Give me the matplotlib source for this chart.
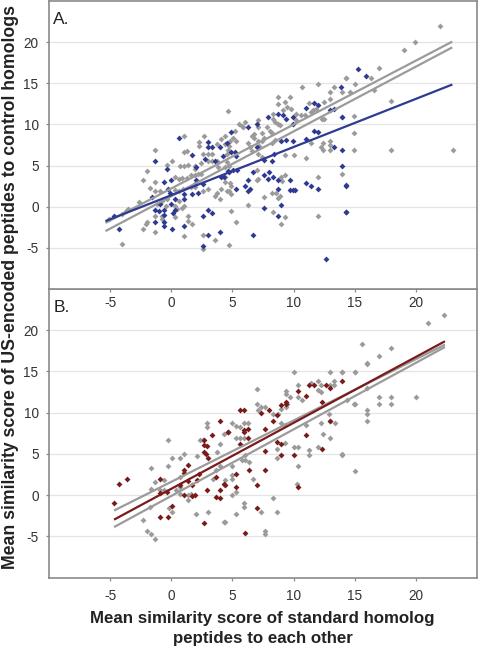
import numpy as np
import matplotlib
matplotlib.use("Agg")
import matplotlib.pyplot as plt

plt.rcParams['font.family'] = ['Liberation Sans', 'DejaVu Sans']
plt.rcParams['axes.unicode_minus'] = False

# Panel A: grey = standard homolog pairs, blue = US-encoded peptides
a_gray_x = [4.66, 1.0, 2.7, 2.3, 2.3, 4.1, -1.3, 1.0, 1.3, 2.6, 3.0, 3.36, 3.0, 3.36, 3.7, 0.05, -0.35,
            0.7, 1.0, 1.4, 1.95, 1.95, 2.4, 2.4, -2.0, -2.3, -1.3, 0.33, 0.6, 0.9, 1.27, 1.6, 1.95, 2.2,
            -1.7, -1.3, -0.9, 0.33, 0.6, 0.92, 1.6, 1.95, 2.6, 3.0, 3.6, 3.98, -2.66, -1.2, -0.8, -0.4,
            -0.35, 0.33, 0.6, 0.46, 0.86, 1.0, 0.33, -1.3, -0.8, -0.8, -2.1, -2.0, -2.3, -1.3, 1.35,
            1.35, 1.7, 1.0, -4.0, -5.1, -3.74, -3.5, -4.0, 2.6, 2.6, 3.6, 3.7, 4.1, 4.4, 4.56, 4.56,
            4.66, 4.4, 4.56, 3.7, 3.85,
            10.7, 12.0, 13.3, 14.0, 13.0, 14.3, 8.7, 9.7, 9.3, 9.5, 9.8, 8.7, 9.1, 11.3, 12.5, 13.0,
            10.9, 11.4, 11.6, 11.8, 8.3, 8.3, 8.5, 8.7, 8.9, 10.2, 10.2, 10.6, 7.8, 8.05, 8.2, 7.1, 7.1,
            7.4, 6.8, 6.6, 5.5, 5.75, 6.0, 5.9, 5.2, 5.07, 5.3, 7.6, 8.2, 8.5, 6.8, 7.1, 7.4, 7.2, 6.3,
            6.4, 6.6, 4.4, 4.7, 4.7, 4.4, 4.8, 11.4, 12.4, 12.25, 12.5, 12.3, 13.0, 13.0, 12.4, 13.0,
            14.0, 11.0, 9.3, 10.0, 7.1, 7.4, 4.4, 4.7, 7.05, 7.1, 6.97, 9.0, 9.3, 9.05, 8.6, 8.7, 8.9,
            12.0, 4.8, 4.9, 4.7, 4.9, 7.6, 8.2, 6.3, 8.3, 9.0, 9.3, 4.9, 5.3, 4.7, 12.0, 14.0,
            22.0, 19.97, 19.0, 16.96, 16.3, 14.3, 15.0, 14.6, 16.6, 18.0, 14.96, 14.96, 14.96, 18.0, 23.0]
a_gray_y = [11.6, 8.6, 8.6, 7.9, 7.4, 8.2, 6.9, 6.6, 6.8, 6.4, 6.4, 6.4, 5.6, 5.6, 5.6, 5.6, 5.1,
            4.9, 4.9, 5.1, 5.0, 4.6, 5.3, 4.0, 4.3, 3.3, 3.0, 3.6, 3.4, 3.5, 3.5, 3.8, 3.8, 4.0,
            2.3, 1.95, 1.95, 2.07, 1.95, 2.15, 2.35, 2.35, 1.95, 2.15, 1.3, 0.9, 0.6, 0.33, 0.73, 0.13,
            0.9, 0.13, 0.73, -0.3, -0.2, 0.13, -1.3, -1.1, -1.1, -1.5, -2.1, -1.9, -2.7, -3.1, -1.1,
            -1.7, -2.1, -3.5, -4.5, -1.5, -0.5, -0.3, -0.9, -3.4, -5.1, -4.0, 1.7, 2.15, 2.95, 5.4, 6.4,
            6.95, 3.6, 1.95, 7.6, 4.8,
            14.6, 14.9, 14.6, 13.9, 13.9, 15.65, 13.3, 13.3, 12.7, 12.1, 11.9, 12.5, 11.7, 12.6, 12.7, 13.1,
            11.1, 11.5, 11.7, 11.9, 11.3, 10.7, 10.3, 10.1, 9.9, 11.3, 10.5, 11.1, 9.65, 9.25, 9.0, 10.5, 9.65,
            9.0, 8.8, 8.6, 10.05, 9.85, 10.25, 9.65, 9.25, 8.4, 8.0, 8.4, 7.8, 8.1, 8.4, 8.0, 8.0, 7.4, 7.8,
            7.2, 6.8, 7.6, 7.4, 6.8, 8.6, 8.0, 7.8, 7.8, 7.3, 10.7, 10.7, 8.0, 7.5, 6.9, 6.9,
            4.0, 5.9, 6.3, 6.3, 6.4, 6.0, 4.8, 4.9, 4.4, 3.4, 3.2, 3.6, 3.8, 3.1, 1.7, 1.1, 1.3,
            3.6, 2.9, 2.5, 1.95, 1.5, 1.2, 1.7, 0.2, -0.7, -2.1, -1.3, -0.5, -1.8, -4.7, -1.1, 10.9,
            21.9, 20.0, 19.0, 16.9, 15.6, 15.6, 14.9, 13.9, 14.2, 12.9, 11.0, 9.0, 6.9, 6.9, 6.9]

a_blue_x = [0.65, 3.0, 3.0, 3.36, 3.98, -1.3, 1.7, 3.6, 4.26, -0.35, 2.0, 2.76, -0.6, 0.0, 2.0, 1.95,
            -0.3, -0.08, 1.0, 1.0, 2.6, 1.7, 2.2, -1.6, -0.95, -1.3, -0.97, -0.6, -0.6, 0.0, 0.33, 0.33,
            0.1, -1.3, -0.6, -0.6, 0.06, 1.0, -4.7, -4.3, 2.6, 2.6, 3.0, 3.0, 3.36, 3.98, 4.1, 4.35,
            4.66, 4.56,
            13.9, 11.7, 12.0, 11.0, 7.9, 8.7, 9.1, 9.4, 9.95, 9.95, 7.0, 6.3, 4.9, 9.0, 9.4, 9.95, 6.97,
            4.9, 5.2, 5.3, 11.65, 12.0, 11.0, 13.0, 13.3, 13.95, 13.3, 13.95, 14.0, 14.3, 14.3, 8.4, 7.6,
            8.2, 5.07, 5.4, 4.7, 6.7, 7.97, 7.6, 7.9, 8.3, 9.7, 9.7, 9.95, 10.1, 8.7, 8.7, 11.0, 11.4,
            12.0, 6.3, 6.0, 6.4, 6.3, 5.3, 7.6, 9.0, 8.7, 6.7, 12.65,
            15.3, 15.96, 14.3, 14.3]
a_blue_y = [8.3, 7.9, 7.2, 7.2, 7.2, 5.6, 6.3, 5.6, 6.2, 4.6, 4.8, 5.8, 3.0, 3.3, 3.3, 2.75,
            2.2, 1.7, 1.5, 0.9, 2.7, 1.5, 1.7, 1.2, 0.33, -0.4, -0.5, -0.4, -1.0, 0.33, 0.9, -0.4,
            -0.8, -1.8, -1.8, -2.3, -2.7, -2.4, -1.1, -2.7, -1.1, -4.75, -3.4, -0.4, -0.8, -3.1, 3.6, 3.6,
            4.3, 7.8,
            14.6, 12.6, 12.3, 12.0, 10.9, 11.3, 11.1, 10.7, 10.95, 10.05, 10.05, 9.65, 9.05, 8.0, 8.1, 8.0, 7.2,
            6.6, 6.6, 6.2, 9.25, 9.05, 8.2, 11.7, 11.9, 10.9, 7.3, 6.9, 5.0, 2.55, -0.7, 6.4, 5.7,
            5.6, 4.5, 4.4, 4.2, 4.2, 4.2, 3.8, 3.4, 3.6, 3.3, 2.0, 2.0, 2.0, 3.3, 2.1, 2.9, 2.55,
            2.2, 3.2, 2.55, 2.15, 1.9, 2.2, -0.1, 0.2, -1.1, -3.4, -6.4,
            16.7, 15.9, 2.6, -0.7]

# Panel B: grey = standard homolog pairs, red = US-encoded peptides
b_gray_x = [-1.65, -1.3, -1.65, -0.95, -0.6, -0.6, -0.3, -0.3, 0.06, 0.68, 1.0, 0.68, 0.68, 0.4, 0.73,
            1.33, 1.6, -0.2, 0.06, -1.7, -2.3, -2.0, -1.65, -1.3, 1.33, 2.03, 3.03, 3.44, 3.66, 4.0,
            2.63, 2.36, 2.95, 2.95, 3.7, 4.0, 4.3, 4.4, 4.3, 2.1,
            10.0, 13.0, 14.0, 13.3, 13.0, 13.3, 11.4, 12.0, 12.25, 12.0, 12.25, 10.35, 10.35, 10.7, 9.35,
            9.35, 9.7, 9.5, 9.0, 9.4, 8.7, 8.3, 7.64, 7.37, 7.0, 7.1, 6.97, 4.93, 5.3, 5.6, 5.96, 6.3,
            5.96, 5.3, 5.6, 11.0, 12.25, 13.4, 9.0, 9.3, 9.3, 10.0, 10.35, 8.67, 8.67, 10.35, 11.3, 11.3,
            12.0, 14.0, 13.0, 12.4, 6.0, 5.75, 4.99, 4.99, 4.93, 6.0, 6.34, 6.7, 4.99, 5.3, 5.96, 5.96,
            5.3, 4.4, 7.3, 8.3, 8.67, 10.3, 7.64, 7.64,
            22.3, 21.0, 15.6, 18.0, 17.0, 16.0, 15.0, 16.0, 14.4, 14.96, 17.0, 18.0, 17.0, 18.0, 20.0,
            16.0, 16.0, 16.0, 14.0, 15.0, 12.9, 13.0, 14.0, 15.0, 16.0, 15.0]
b_gray_y = [3.3, 1.6, 0.7, 0.6, 1.8, 0.6, 6.66, 3.6, 4.56, 4.56, 5.05, 2.2, 1.0, 0.6, 0.2,
            0.0, 0.2, -1.6, -2.0, -1.4, -3.0, -4.3, -4.7, -5.3, -0.6, -2.3, -2.0, 2.0, 3.1, 3.6,
            6.75, 6.66, 8.7, 8.3, 5.25, 6.2, 7.46, 1.9, -3.2, 4.8,
            14.9, 14.9, 14.9, 13.9, 13.3, 13.3, 13.6, 13.9, 13.3, 12.7, 12.5, 13.3, 11.9, 11.6, 12.6,
            12.3, 11.9, 11.1, 10.5, 10.7, 9.9, 9.9, 10.7, 10.7, 11.0, 10.3, 12.9, 8.7, 8.4, 8.27, 8.7, 8.7,
            6.9, 6.9, 6.97, 8.5, 8.7, 8.7, 8.7, 8.5, 6.3, 5.9, 5.9, 5.65, 4.5, 3.6, 5.45, 4.9,
            5.9, 4.9, 6.94, 7.4, 4.9, 4.25, 3.6, 2.4, 2.0, 4.25, 4.0, 2.0, 0.0, 0.4, -1.0, -1.4,
            -2.3, -3.3, -2.0, -0.3, -2.0, 1.4, -4.4, -4.7,
            21.9, 20.9, 18.3, 17.9, 16.9, 15.9, 14.9, 13.0, 11.6, 11.0, 11.0, 11.0, 11.9, 11.9, 11.9,
            10.3, 9.9, 9.0, 5.0, 2.9, 9.9, 9.0, 14.9, 14.9, 16.0, 11.0]

b_red_x = [-4.7, -4.28, -3.66, -0.95, -0.95, 1.0, 1.33, 1.0, 0.73, 1.33, 1.68, 2.3, 2.1, 1.0, 1.95,
           1.68, -0.35, 0.06, -0.3, -0.95, 2.68, 2.95, 3.66, 4.0, 4.0, 3.66, 4.3, 2.68, 2.68, 2.68,
           2.95, 3.03, 2.85, 3.36, 4.0, 4.66,
           14.0, 13.0, 12.65, 11.65, 11.3, 10.35, 11.0, 9.35, 9.35, 9.0, 8.67, 8.35, 7.67, 8.0, 5.6,
           5.96, 7.3, 4.66, 5.96, 6.3, 6.3, 5.6, 5.96, 12.3, 13.0, 11.0, 8.67, 9.0, 9.0, 10.0, 12.3,
           7.64, 7.7, 6.97, 6.34, 5.3, 5.3, 4.4, 6.0, 6.97, 10.35]
b_red_y = [-1.0, 1.3, 1.95, 1.95, 0.28, 3.03, 3.63, 2.7, 1.2, 1.74, 1.2, 2.6, 1.8, 0.0, 0.0,
           -0.12, 0.4, -1.3, -2.6, -2.6, -3.35, 0.6, -0.2, -0.28, 0.6, 2.2, 1.4, 6.66, 6.05, 5.25,
           6.0, 4.5, 4.97, 7.35, 8.96, 7.63,
           13.9, 13.0, 13.3, 13.3, 13.3, 12.6, 11.98, 11.3, 11.1, 10.9, 9.7, 8.96, 8.0, 10.3, 10.3,
           10.3, 10.0, 7.66, 7.87, 8.0, 6.94, 6.26, 7.66, 11.3, 8.96, 7.35, 6.46, 6.26, 4.9, 4.9, 5.65,
           5.3, 3.0, 1.29, 3.0, 2.6, 1.0, 1.29, -4.6, -1.6, 1.0]

# regression lines: [x_start, x_end], [y_start, y_end]
a_line_x = [-5.3, 22.9]
a_gray_fit1 = [-1.9, 20.0]
a_gray_fit2 = [-2.9, 19.3]
a_blue_fit = [-1.7, 14.8]
b_line_x = [-4.6, 22.3]
b_gray_fit1 = [-1.8, 18.2]
b_gray_fit2 = [-3.8, 17.9]
b_red_fit = [-2.9, 18.6]

ticks = [-5, 0, 5, 10, 15, 20]

GRAY = '#9b9b9b'
BLUE = '#2f3a92'
RED = '#7a1b1b'
SPINE = '#8a8a8a'

fig = plt.figure(figsize=(4.79, 6.49), dpi=100)
ax_a = fig.add_axes([0.1023, 0.5547, 0.8935, 0.4438])
ax_b = fig.add_axes([0.1023, 0.1099, 0.8935, 0.4448])
ax_a.set_zorder(2)
ax_b.set_zorder(1)


def style(ax, xpad):
    ax.set_xlim(-10, 25)
    ax.set_ylim(-10, 25)
    ax.set_xticks(ticks)
    ax.set_yticks(ticks)
    ax.grid(axis='y', color='#e4e4e4', linewidth=0.9)
    ax.set_axisbelow(True)
    for s in ax.spines.values():
        s.set_color(SPINE)
        s.set_linewidth(1.2)
    ax.tick_params(axis='both', colors=SPINE, labelcolor='#333333', labelsize=9.8, length=2.5, width=0.9)
    ax.tick_params(axis='y', pad=5)
    ax.tick_params(axis='x', pad=xpad)


style(ax_a, 2.5)
style(ax_b, 6)

ax_a.plot(a_gray_x, a_gray_y, 'D', color=GRAY, ms=3.0, mew=0, zorder=2)
ax_a.plot(a_blue_x, a_blue_y, 'D', color=BLUE, ms=3.0, mew=0, zorder=2.5)
ax_a.plot(a_line_x, a_gray_fit1, color=GRAY, lw=1.6, zorder=3)
ax_a.plot(a_line_x, a_gray_fit2, color=GRAY, lw=1.6, zorder=3)
ax_a.plot(a_line_x, a_blue_fit, color=BLUE, lw=1.6, zorder=3)

ax_b.plot(b_gray_x, b_gray_y, 'D', color=GRAY, ms=3.0, mew=0, zorder=2)
ax_b.plot(b_red_x, b_red_y, 'D', color=RED, ms=3.0, mew=0, zorder=2.5)
ax_b.plot(b_line_x, b_gray_fit1, color=GRAY, lw=1.6, zorder=3)
ax_b.plot(b_line_x, b_gray_fit2, color=GRAY, lw=1.6, zorder=3)
ax_b.plot(b_line_x, b_red_fit, color=RED, lw=1.6, zorder=3)

ax_a.text(0.01, 0.962, 'A.', transform=ax_a.transAxes, fontsize=12.5, color='#222222', va='top', ha='left')
ax_b.text(0.01, 0.962, 'B.', transform=ax_b.transAxes, fontsize=12.5, color='#222222', va='top', ha='left')

fig.text(0.021, 0.558, 'Mean similarity score of US-encoded peptides to control homologs',
         rotation=90, ha='center', va='center', fontsize=12.7, fontweight='bold', color='#222222')
fig.text(0.548, 0.031, 'Mean similarity score of standard homolog\npeptides to each other',
         ha='center', va='center', fontsize=12.2, fontweight='bold', color='#222222', linespacing=1.4)

fig.savefig('out.png', dpi=100)
